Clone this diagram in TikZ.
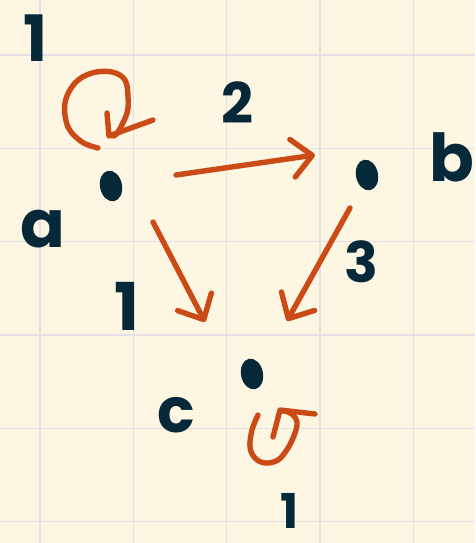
\documentclass[tikz,border=0pt]{standalone}
\usepackage{fontspec}
\setmainfont{Poppins}
\usetikzlibrary{arrows.meta,shapes.geometric}
\definecolor{paper}{HTML}{FDF6E3}
\definecolor{gridc}{HTML}{E6E0E6}
\definecolor{ink}{HTML}{06293A}
\definecolor{edgec}{HTML}{CB4B16}
\tikzset{
  dotnode/.style={ellipse, fill=ink, inner sep=0pt, minimum width=22pt, minimum height=31pt, rotate=12},
  lab/.style={text=ink, inner sep=0pt, font=\bfseries\fontsize{#1}{#1}\selectfont},
  edge/.style={draw=edgec, line width=5.4pt, line cap=round, line join=round,
    -{Straight Barb[length=20pt, width=38pt, round]}},
  loopline/.style={draw=edgec, line width=5.4pt, line cap=round, line join=round},
  gridline/.style={draw=gridc, line width=1.6pt}
}
\begin{document}
\begin{tikzpicture}[x=1pt, y=-1pt]
  \fill[paper] (0,0) rectangle (475,543);
  \useasboundingbox (0,0) rectangle (475,543);
  % grid
  \foreach \gx in {40,133.3,226.6,320,413.3} \draw[gridline] (\gx,0) -- (\gx,543);
  \foreach \gy in {55,148.3,241.6,335,428.3,521.6} \draw[gridline] (0,\gy) -- (475,\gy);
  % vertices
  \node[dotnode] (a) at (111,186) {};
  \node[dotnode] (b) at (367,175) {};
  \node[dotnode] (c) at (252,374) {};
  % labels
  \node[lab=66] (la) at (43,229) {a};
  \node[lab=66] (lb) at (452,157) {b};
  \node[lab=62] (lc) at (176,415) {c};
  \node[lab=64] (w1) at (36,38) {1};
  \node[lab=56] (w2) at (237,103) {2};
  \node[lab=56] (w3) at (361,262) {3};
  \node[lab=66] (w4) at (127,306) {1};
  \node[lab=48] (w5) at (290,511) {1};
  % edges
  \draw[edge] ([shift={(65,-11)}]a.center) -- ([shift={(-52,-20)}]b.center);
  \draw[edge] ([shift={(42,36)}]a.center) -- ([shift={(-47,-52)}]c.center);
  \draw[edge] ([shift={(-17,33)}]b.center) -- ([shift={(35,-53)}]c.center);
  % self loop at a
  \begin{scope}[shift={(a.center)}]
    \draw[loopline] plot[smooth, tension=0.6] coordinates {(-13,-38) (-29,-44) (-43,-59) (-46,-83) (-36,-103) (-19,-113) (1,-114) (14,-106) (17,-89) (16,-73) (7,-54) (2,-50)};
    \draw[loopline] (-4,-73) -- (-2,-50) -- (42,-66);
  \end{scope}
  % self loop at c
  \begin{scope}[shift={(c.center)}]
    \draw[loopline] plot[smooth, tension=0.6] coordinates {(6,41) (0,56) (-2,73) (3,84) (13,89) (26,86) (36,74) (43,59) (45,48) (41,41) (33,37) (28,37)};
    \draw[loopline] (63,40) -- (28,36) -- (21,63);
  \end{scope}
\end{tikzpicture}
\end{document}
